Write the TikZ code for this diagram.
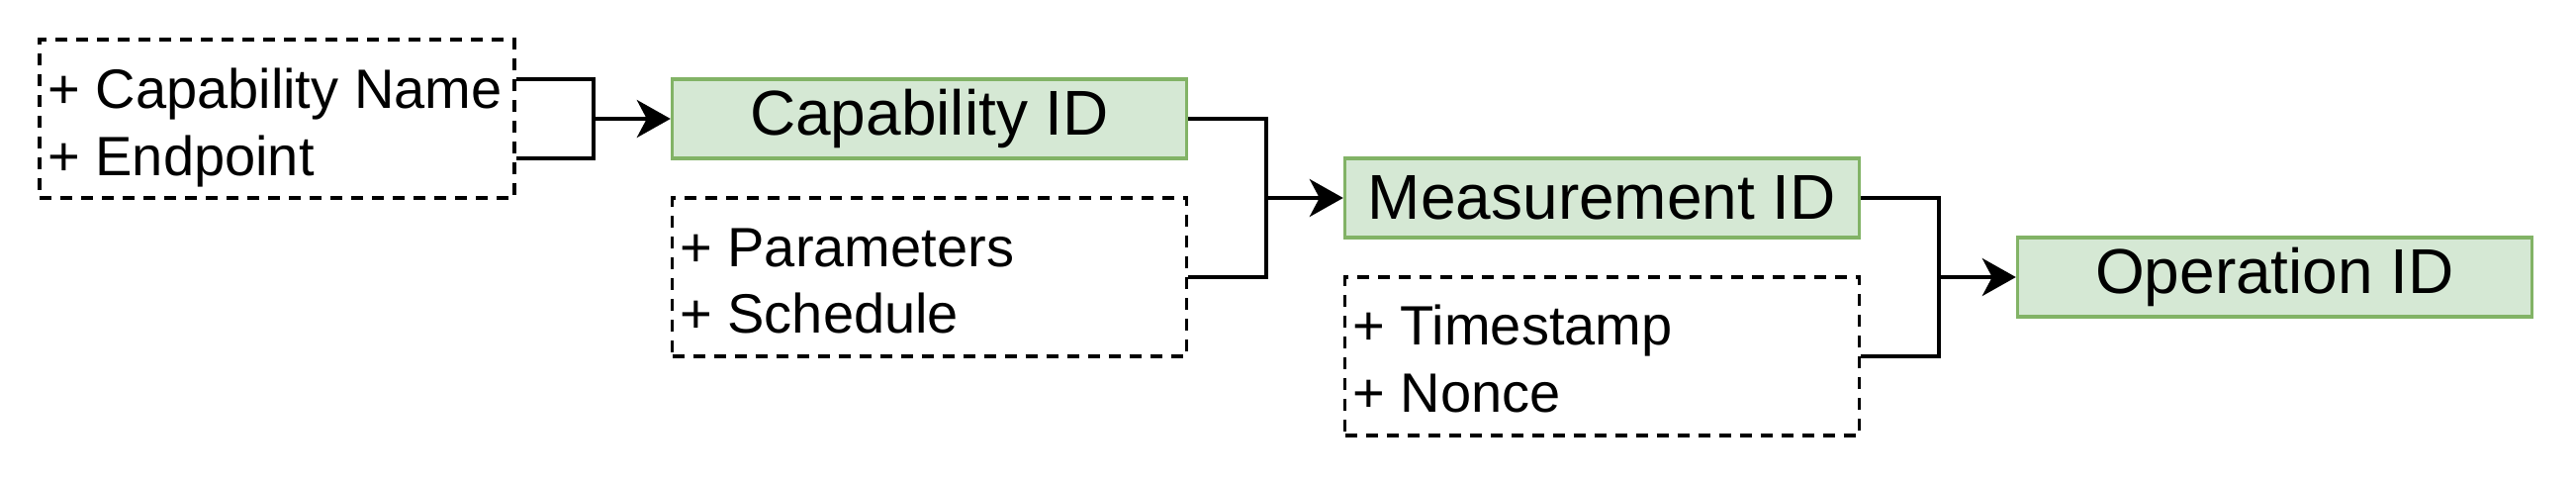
\documentclass[tikz,border=0pt]{standalone}
\usepackage{fontspec}
\setmainfont{Liberation Sans}
\usetikzlibrary{arrows.meta}
\definecolor{gfill}{HTML}{D5E8D4}
\definecolor{gdraw}{HTML}{82B366}
\begin{document}
\begin{tikzpicture}[x=0.5pt,y=-0.5pt,
  idbox/.style={draw=gdraw,fill=gfill,line width=1.7pt,minimum width=260pt,minimum height=40pt,inner sep=0pt,font=\fontsize{32}{36}\selectfont},
  listbox/.style={draw,dash pattern=on 6pt off 4.5pt,line width=1.9pt,minimum height=80pt,inner sep=0pt},
  item/.style={anchor=base west,inner sep=0pt,font=\fontsize{28}{33}\selectfont},
  conn/.style={line width=2pt},
  arr/.style={conn,-{Stealth[length=17pt,width=19pt,inset=5pt]}}]
\useasboundingbox (0,0) rectangle (2604,488);
% boxes
\node[listbox,minimum width=240pt] (b1) at (280,120) {};
\node[idbox] (c1) at (939.5,120) {Capability ID};
\node[listbox,minimum width=260pt] (b2) at (939.5,280) {};
\node[idbox] (c2) at (1619.5,200) {Measurement ID};
\node[listbox,minimum width=260pt] (b3) at (1619.5,360) {};
\node[idbox] (c3) at (2299.5,280) {Operation ID};
% list texts
\node[item] (t1a) at (48,109) {+ Capability Name};
\node[item] (t1b) at (48,177) {+ Endpoint};
\node[item] (t2a) at (687,269) {+ Parameters};
\node[item] (t2b) at (687,336) {+ Schedule};
\node[item] (t3a) at (1367,348) {+ Timestamp};
\node[item] (t3b) at (1367,416) {+ Nonce};
% junctions
\coordinate (b1a) at ([yshift=20pt]b1.east);
\coordinate (b1b) at ([yshift=-20pt]b1.east);
\coordinate (j1) at (600,120);
\coordinate (j2) at (1280,200);
\coordinate (j3) at (1960,280);
% connectors
\draw[conn] (b1a) -| (j1) |- (b1b);
\draw[arr] (j1) -- (c1.west);
\draw[conn] (c1.east) -| (j2) |- (b2.east);
\draw[arr] (j2) -- (c2.west);
\draw[conn] (c2.east) -| (j3) |- (b3.east);
\draw[arr] (j3) -- (c3.west);
\end{tikzpicture}
\end{document}
